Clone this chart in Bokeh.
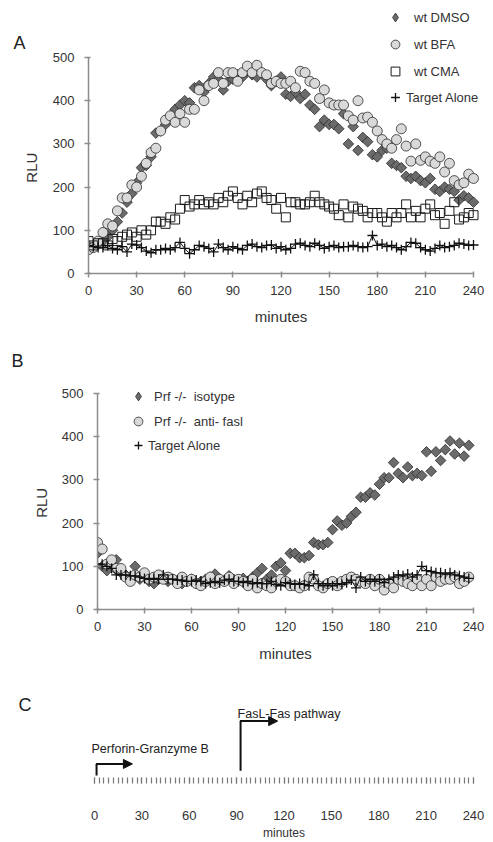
import numpy as np
from bokeh.plotting import figure
from bokeh.models import (Legend, LegendItem, Label, Arrow, NormalHead,
                          FixedTicker, Range1d, LinearAxis)
from bokeh.embed import file_html
from bokeh.resources import INLINE

# ---------------- data ----------------
minutes_a = list(range(0, 241, 3))
wt_dmso = [65, 62, 68, 75, 85, 100, 120, 140, 165, 185,
           210, 245, 250, 270, 325, 330, 345, 365, 380, 390,
           400, 395, 430, 435, 420, 440, 455, 450, 425, 445,
           450, 460, 455, 470, 460, 455, 465, 450, 435, 445,
           455, 415, 410, 420, 405, 415, 390, 380, 340, 355,
           345, 345, 335, 370, 300, 340, 285, 315, 305, 275,
           270, 285, 290, 255, 250, 245, 225, 220, 225, 215,
           210, 220, 195, 190, 200, 195, 190, 170, 180, 175,
           165]
wt_bfa = [55, 60, 75, 95, 115, 110, 145, 175, 175, 205,
          200, 225, 255, 280, 290, 330, 355, 365, 350, 370,
          350, 380, 380, 425, 400, 435, 440, 465, 440, 465,
          465, 445, 465, 480, 465, 482, 465, 460, 440, 445,
          440, 440, 445, 430, 468, 465, 445, 440, 405, 425,
          395, 390, 390, 390, 365, 355, 400, 360, 362, 350,
          330, 310, 300, 290, 310, 335, 295, 260, 300, 262,
          270, 260, 255, 270, 235, 255, 215, 205, 210, 230,
          220]
wt_cma = [75, 65, 70, 70, 65, 80, 75, 85, 90, 95,
          85, 100, 90, 100, 120, 120, 115, 130, 125, 150,
          170, 155, 160, 170, 160, 165, 160, 175, 165, 180,
          190, 175, 160, 180, 165, 185, 190, 175, 170, 150,
          175, 130, 165, 165, 160, 160, 165, 180, 165, 160,
          155, 150, 135, 160, 130, 155, 150, 145, 130, 140,
          140, 130, 120, 140, 130, 140, 160, 130, 145, 130,
          150, 160, 135, 140, 115, 145, 165, 125, 130, 140,
          135]
target_a = [65, 62, 60, 60, 65, 58, 55, 62, 50, 68,
            66, 60, 52, 48, 55, 55, 58, 55, 60, 72,
            58, 46, 55, 65, 62, 58, 50, 68, 60, 55,
            62, 58, 55, 65, 68, 62, 60, 65, 66, 58,
            62, 55, 58, 68, 70, 65, 62, 70, 65, 58,
            62, 65, 60, 62, 62, 65, 62, 60, 62, 88,
            65, 68, 62, 65, 60, 55, 62, 72, 70, 60,
            55, 52, 58, 65, 60, 62, 65, 70, 68, 65,
            66]

minutes_b = list(range(0, 238, 3))
prf_isotype = [130, 100, 90, 105, 115, 85, 80, 75, 100, 70,
               80, 65, 60, 70, 75, 65, 70, 65, 60, 65,
               70, 60, 65, 70, 75, 82, 70, 65, 78, 70,
               68, 72, 65, 75, 85, 95, 70, 80, 100, 108,
               90, 130, 130, 120, 120, 125, 155, 150, 150, 155,
               185, 205, 195, 200, 215, 225, 260, 260, 270, 265,
               290, 305, 305, 340, 315, 305, 330, 310, 315, 310,
               365, 320, 365, 345, 370, 390, 360, 385, 355, 380]
prf_antifasl = [155, 140, 105, 115, 95, 95, 75, 65, 80, 75,
                85, 70, 75, 80, 70, 75, 70, 60, 75, 65,
                70, 60, 55, 65, 75, 60, 70, 65, 75, 60,
                70, 65, 55, 70, 50, 60, 55, 50, 65, 70,
                65, 55, 55, 50, 55, 75, 70, 55, 50, 60,
                65, 55, 65, 70, 75, 70, 65, 60, 70, 55,
                70, 45, 60, 50, 70, 65, 60, 55, 70, 55,
                70, 55, 75, 65, 70, 70, 75, 60, 65, 75]
target_b = [105, 105, 100, 95, 80, 80, 80, 78, 78, 75,
            72, 70, 72, 70, 80, 70, 70, 68, 68, 65,
            65, 68, 65, 60, 62, 65, 62, 68, 70, 65,
            65, 62, 65, 60, 62, 60, 60, 65, 58, 55,
            62, 60, 58, 60, 58, 55, 80, 60, 55, 60,
            55, 60, 58, 62, 68, 50, 75, 65, 70, 65,
            70, 62, 70, 75, 80, 78, 82, 75, 80, 100,
            90, 88, 85, 85, 82, 85, 80, 78, 75, 72]

x_ticks = [0, 30, 60, 90, 120, 150, 180, 210, 240]
y_ticks = [0, 100, 200, 300, 400, 500]
timeline_marks = list(range(0, 241, 3))
pathway_names = ["Perforin-Granzyme B", "FasL-Fas pathway"]
pathway_start = [1.3, 92.5]
pathway_end = [24, 116]

# ---------------- style ----------------
FONT = "Liberation Sans"
AX = "#8c8c8c"
TXT = "#333333"
DIAMOND_FILL = "#6b6b6b"
CIRCLE_FILL = "#d9d9d9"
EDGE = "#2b2b2b"


def style(p):
    p.xgrid.visible = False
    p.ygrid.visible = False
    p.outline_line_color = None
    p.background_fill_color = "white"
    p.border_fill_color = "white"
    p.xaxis.ticker = FixedTicker(ticks=x_ticks)
    p.yaxis.ticker = FixedTicker(ticks=y_ticks)
    p.xaxis.bounds = (0, 240)
    p.yaxis.bounds = (0, 500)
    for ax in p.xaxis + p.yaxis:
        ax.axis_line_color = AX
        ax.axis_line_width = 1.5
        ax.major_tick_line_color = AX
        ax.major_tick_line_width = 1.5
        ax.major_tick_in = 2
        ax.major_tick_out = 4
        ax.minor_tick_line_color = None
        ax.major_label_text_font = FONT
        ax.major_label_text_font_size = "13px"
        ax.major_label_text_color = TXT
    p.xaxis.major_label_standoff = 8
    p.yaxis.major_label_standoff = 10


def text_axis(p, side, pos, text, standoff, size, orientation="horizontal", color=TXT):
    """An axis with no line and no tick marks, carrying one text at a given position."""
    ax = LinearAxis(ticker=FixedTicker(ticks=[pos]),
                    major_label_overrides={pos: text},
                    axis_line_color=None, major_tick_line_color=None,
                    minor_tick_line_color=None, major_tick_in=0, major_tick_out=0,
                    minor_tick_in=0, minor_tick_out=0,
                    major_label_standoff=standoff,
                    major_label_orientation=orientation,
                    major_label_text_font=FONT, major_label_text_font_size=size,
                    major_label_text_color=color)
    p.add_layout(ax, side)


def legend(items, vx, vy, standoff, glyph, spacing=5):
    return Legend(items=items, location=(vx, vy), orientation="vertical",
                  glyph_width=glyph, glyph_height=glyph, label_height=glyph,
                  spacing=spacing, padding=0, margin=0, label_standoff=standoff,
                  border_line_color=None, background_fill_alpha=0,
                  label_text_font=FONT, label_text_font_size="13px",
                  label_text_color=TXT)


# ---------------- panel A ----------------
# frame: x 88..493 (0..240 -> 88..473), y 0..273 (0..500 -> 273..57)
pa = figure(width=493, height=340, title=None,
            x_range=Range1d(0, 240 * 405 / 385), y_range=Range1d(0, 273 / 0.432),
            output_backend="svg", toolbar_location=None,
            min_border_left=88, min_border_right=0, min_border_top=0, min_border_bottom=67)
style(pa)

pa.scatter(minutes_a, wt_dmso, marker="square", angle=np.pi / 4, size=7.5,
           fill_color=DIAMOND_FILL, line_color=EDGE, line_width=0.8)
leg_dmso = pa.scatter(minutes_a, wt_dmso, marker="diamond", size=0,
                      fill_color=DIAMOND_FILL, line_color=EDGE, line_width=0.8)
r_bfa = pa.scatter(minutes_a, wt_bfa, marker="circle", size=10,
                   fill_color=CIRCLE_FILL, line_color=EDGE, line_width=0.8)
r_cma = pa.scatter(minutes_a, wt_cma, marker="square", size=9,
                   fill_color=None, line_color="#1a1a1a", line_width=1)
pa.line(minutes_a, target_a, line_color="#1a1a1a", line_width=1)
r_ta = pa.scatter(minutes_a, target_a, marker="cross", size=10,
                  line_color="#111111", line_width=1.3)

pa.add_layout(legend([LegendItem(label="wt DMSO", renderers=[leg_dmso]),
                      LegendItem(label="wt BFA", renderers=[r_bfa]),
                      LegendItem(label="wt CMA", renderers=[r_cma])],
                     296, 191, 8, 22), "center")
pa.add_layout(legend([LegendItem(label="Target Alone", renderers=[r_ta])],
                     296, 165, -3, 22), "center")
text_axis(pa, "below", 120, "minutes", 10, "15px")
text_axis(pa, "left", 245, "RLU", 9, "15px", "vertical")
text_axis(pa, "left", (273 - 42) / 0.432, "A", -5, "18px", color="#222222")

# ---------------- panel B ----------------
# frame: x 97..493 (0..240 -> 97..473), y 0..269 (0..500 -> 269..53)
kb = 376 / 240
pb = figure(width=493, height=330, title=None,
            x_range=Range1d(0, 240 + 20 / kb), y_range=Range1d(0, 269 / 0.432),
            output_backend="svg", toolbar_location=None,
            min_border_left=97, min_border_right=0, min_border_top=0, min_border_bottom=61)
style(pb)

pb.scatter(minutes_b, prf_isotype, marker="square", angle=np.pi / 4, size=7.5,
           fill_color=DIAMOND_FILL, line_color=EDGE, line_width=0.8)
leg_iso = pb.scatter(minutes_b, prf_isotype, marker="diamond", size=0,
                     fill_color=DIAMOND_FILL, line_color=EDGE, line_width=0.8)
r_fasl = pb.scatter(minutes_b, prf_antifasl, marker="circle", size=10,
                    fill_color=CIRCLE_FILL, line_color=EDGE, line_width=0.8)
pb.line(minutes_b, target_b, line_color="#1a1a1a", line_width=1)
r_tb = pb.scatter(minutes_b, target_b, marker="cross", size=10,
                  line_color="#111111", line_width=1.3)

pb.add_layout(legend([LegendItem(label="Prf -/-  isotype", renderers=[leg_iso]),
                      LegendItem(label="Prf -/-  anti- fasl", renderers=[r_fasl])],
                     30, 177, 5, 22, spacing=3), "center")
pb.add_layout(legend([LegendItem(label="Target Alone", renderers=[r_tb])],
                     31, 154, 0, 20), "center")
text_axis(pb, "below", 120, "minutes", 11, "15px")
text_axis(pb, "left", 247, "RLU", 8, "15px", "vertical")
text_axis(pb, "left", (269 - 20) / 0.432, "B", 7, "18px", color="#222222")

# ---------------- panel C ----------------
# frame: x 0..493 (0..240 -> 94..473), y 0..110 (page 670..780)
kc = 379 / 240
pc = figure(width=493, height=172, title=None,
            x_range=Range1d(-94 / kc, 240 + 20 / kc), y_range=Range1d(0, 1),
            output_backend="svg", toolbar_location=None, y_axis_location=None,
            min_border_left=0, min_border_right=0, min_border_top=0, min_border_bottom=62)
pc.xgrid.visible = False
pc.ygrid.visible = False
pc.outline_line_color = None
ax = pc.xaxis[0]
ax.ticker = FixedTicker(ticks=x_ticks, minor_ticks=timeline_marks)
ax.bounds = (0, 240)
ax.axis_line_color = None
ax.major_tick_line_color = "#7a7a7a"
ax.minor_tick_line_color = "#7a7a7a"
ax.major_tick_line_width = 1.2
ax.minor_tick_line_width = 1.2
ax.major_tick_in = 0
ax.major_tick_out = 6
ax.minor_tick_in = 0
ax.minor_tick_out = 6
ax.major_label_standoff = 27
ax.major_label_text_font = FONT
ax.major_label_text_font_size = "13px"
ax.major_label_text_color = TXT
text_axis(pc, "below", 120, "minutes", 3, "12px")

elbow_low = [0.018, 0.064]
elbow_high = [0.127, 0.527]
label_y = [0.264, 0.591]
label_dx = [-3.2, -1.9]
for name, s, e, lo, hi, ly, dx in zip(pathway_names, pathway_start, pathway_end,
                                      elbow_low, elbow_high, label_y, label_dx):
    pc.add_layout(Arrow(end=None, x_start=s, y_start=lo, x_end=s, y_end=hi,
                        line_color="#111111", line_width=2))
    pc.add_layout(Arrow(end=NormalHead(size=9, fill_color="#111111", line_color="#111111"),
                        x_start=s - 0.4, y_start=hi, x_end=e, y_end=hi,
                        line_color="#111111", line_width=2))
    pc.add_layout(Label(x=s + dx, y=ly, text=name, text_font=FONT, text_font_size="12.5px",
                        text_color="#222222", text_baseline="middle"))
pc.add_layout(Label(x=(18 - 94) / kc, y=(780 - 705) / 110, text="C", text_font=FONT,
                    text_font_size="18px", text_color="#222222", text_baseline="middle"))

open("out.html", "w").write(file_html([pa, pb, pc], INLINE))
